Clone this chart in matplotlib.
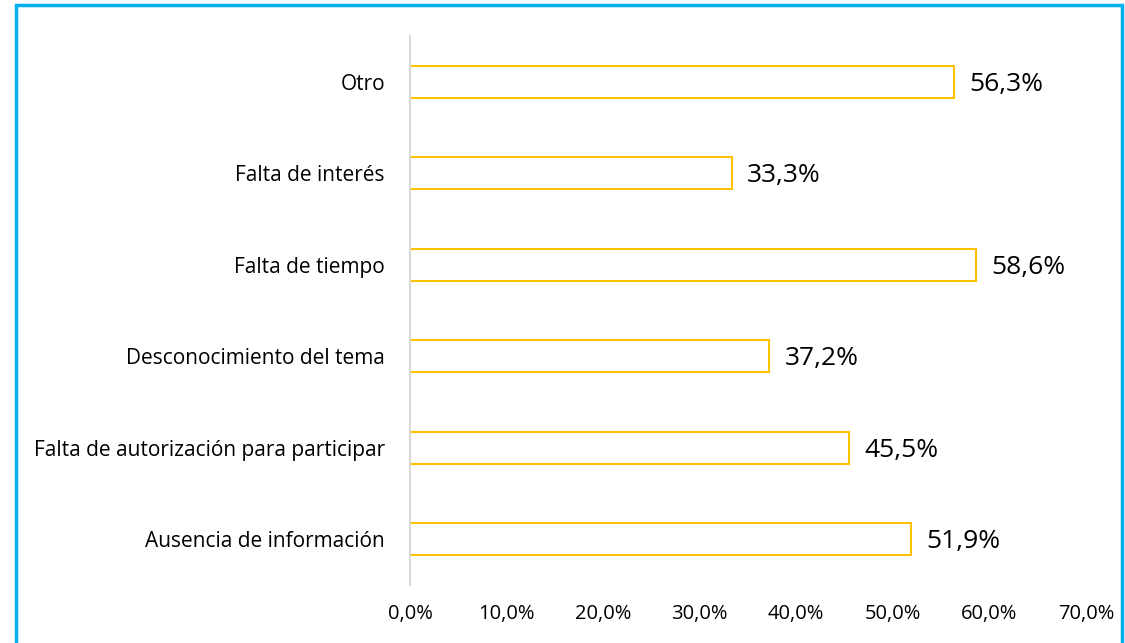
import matplotlib.pyplot as plt
from matplotlib.patches import Rectangle

# data (bottom to top)
categories = ["Ausencia de información", "Falta de autorización para participar",
              "Desconocimiento del tema", "Falta de tiempo", "Falta de interés", "Otro"]
values = [51.9, 45.5, 37.2, 58.6, 33.3, 56.3]
xticks = [0, 10, 20, 30, 40, 50, 60, 70]

plt.rcParams['font.family'] = ['Open Sans', 'DejaVu Sans']

fig = plt.figure(figsize=(11.25, 6.43), dpi=100)
ax = fig.add_axes([0.3644, 0.0902, 0.6009, 0.854])

# outer blue frame
fig.patches.append(Rectangle((0.0142, -0.01), 0.983, 1.002, transform=fig.transFigure,
                             fill=False, edgecolor="#00B0F0", linewidth=2.5))

ypos = range(len(categories))
ax.barh(ypos, values, height=0.35, color="white", edgecolor="#FFC000", linewidth=1.5)

for y, v in zip(ypos, values):
    ax.text(v + 1.6, y - 0.03, f"{v:.1f}%".replace(".", ","), va="center", ha="left",
            fontsize=19, color="black")

ax.set_xlim(0, 70)
ax.set_ylim(-0.5, len(categories) - 0.5)
ax.set_yticks(list(ypos))
ax.set_yticklabels(categories, fontsize=15)
ax.set_xticks(xticks)
ax.set_xticklabels([f"{t:.1f}%".replace(".", ",") for t in xticks], fontsize=14.5)
ax.tick_params(axis="y", length=0, pad=18)
ax.tick_params(axis="x", length=0, pad=14)

for s in ["top", "right", "bottom"]:
    ax.spines[s].set_visible(False)
ax.spines["left"].set_color("#D9D9D9")
ax.spines["left"].set_linewidth(1.5)

fig.savefig("out.png", dpi=100)
